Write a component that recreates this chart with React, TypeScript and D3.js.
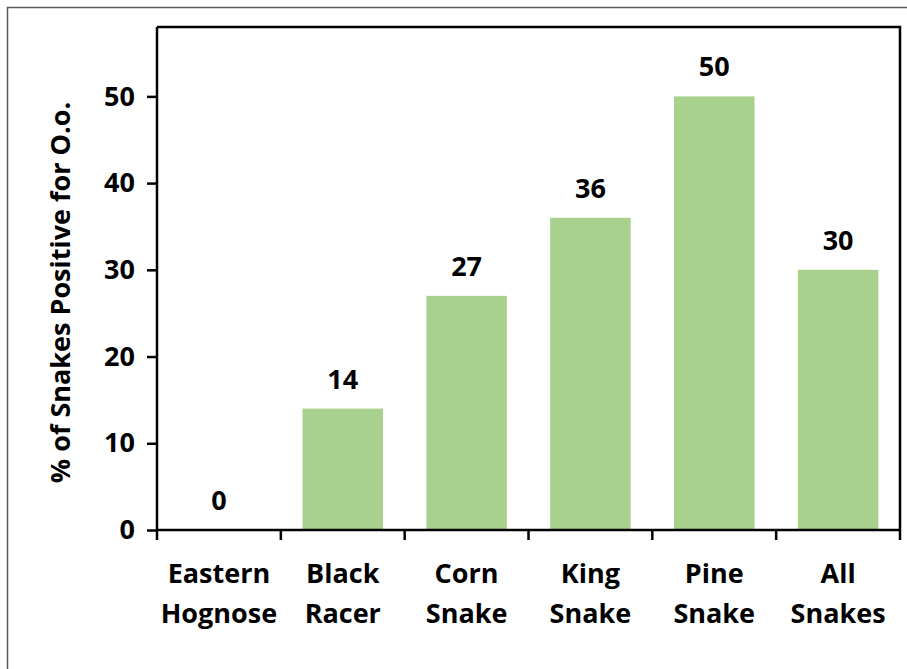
import React, { useRef, useEffect } from 'react';
import * as d3 from 'd3';

const categories = ['Eastern Hognose', 'Black Racer', 'Corn Snake', 'King Snake', 'Pine Snake', 'All Snakes'];
const percentPositive = [0, 14, 27, 36, 50, 30];
const yTicks = [0, 10, 20, 30, 40, 50];
const yTitle = '% of Snakes Positive for O.o.';

const App: React.FC = () => {
  const svgRef = useRef<SVGSVGElement>(null);

  useEffect(() => {
    if (!svgRef.current) return;
    document.body.style.margin = '0';

    const width = 907;
    const height = 669;
    const margins = { top: 27, right: 7, bottom: 139, left: 157 };
    const font = '"Open Sans", Lato, sans-serif';
    const fontSize = 27;

    const svg = d3.select(svgRef.current)
      .attr('width', width)
      .attr('height', height);
    svg.selectAll('*').remove();

    // outer frame
    svg.append('rect')
      .attr('x', 7.5).attr('y', 7.5)
      .attr('width', width + 20).attr('height', height + 20)
      .attr('fill', 'white')
      .attr('stroke', '#595959')
      .attr('stroke-width', 1.5);

    const x = d3.scaleBand<string>()
      .domain(categories)
      .range([margins.left, width - margins.right])
      .paddingInner(0.35)
      .paddingOuter(0.175);

    const y = d3.scaleLinear()
      .domain([0, 58])
      .range([height - margins.bottom, margins.top]);

    // bars
    svg.append('g')
      .selectAll('rect')
      .data(percentPositive)
      .join('rect')
      .attr('x', (_, i) => x(categories[i])!)
      .attr('width', x.bandwidth())
      .attr('y', d => y(d))
      .attr('height', d => y(0) - y(d))
      .attr('fill', '#a9d18e');

    // value labels
    svg.append('g')
      .selectAll('text')
      .data(percentPositive)
      .join('text')
      .attr('x', (_, i) => x(categories[i])! + x.bandwidth() / 2)
      .attr('y', d => y(d) - 20)
      .attr('text-anchor', 'middle')
      .attr('font-family', font)
      .attr('font-weight', 'bold')
      .attr('font-size', fontSize)
      .text(d => d);

    // top and right frame lines
    const frame = svg.append('g').attr('stroke', '#000').attr('stroke-width', 2.5).attr('fill', 'none');
    frame.append('path')
      .attr('d', `M${margins.left},${margins.top}H${width - margins.right}V${y(0)}`);

    // y axis
    const yAxis = svg.append('g')
      .attr('transform', `translate(${margins.left},0)`)
      .call(d3.axisLeft(y).tickValues(yTicks).tickSize(10).tickPadding(12).tickSizeOuter(0));
    yAxis.select('.domain').attr('stroke-width', 2.5).attr('d', `M0,${margins.top}V${y(0)}`);
    yAxis.selectAll('.tick line').attr('stroke-width', 2.5);
    yAxis.selectAll('.tick text')
      .attr('font-family', font)
      .attr('font-weight', 'bold')
      .attr('font-size', fontSize)
      .attr('fill', '#000');

    // x axis with ticks at category boundaries
    const xAxis = svg.append('g').attr('transform', `translate(0,${y(0)})`);
    xAxis.append('line')
      .attr('x1', margins.left).attr('x2', width - margins.right)
      .attr('stroke', '#000').attr('stroke-width', 2.5);
    const step = x.step();
    const edges = d3.range(categories.length + 1).map(i => margins.left + i * step);
    xAxis.selectAll('line.tick')
      .data(edges)
      .join('line')
      .attr('class', 'tick')
      .attr('x1', d => d).attr('x2', d => d)
      .attr('y1', 0).attr('y2', 10)
      .attr('stroke', '#000').attr('stroke-width', 2.5);

    const labels = xAxis.selectAll('text.cat')
      .data(categories)
      .join('text')
      .attr('class', 'cat')
      .attr('text-anchor', 'middle')
      .attr('font-family', font)
      .attr('font-weight', 'bold')
      .attr('font-size', fontSize)
      .attr('transform', d => `translate(${x(d)! + x.bandwidth() / 2},0)`);
    labels.each(function (d) {
      const words = d.split(' ');
      d3.select(this).selectAll('tspan')
        .data(words)
        .join('tspan')
        .attr('x', 0)
        .attr('y', (_, i) => 53 + i * 40)
        .text(w => w);
    });

    // y title
    svg.append('text')
      .attr('transform', `translate(70,${(margins.top + y(0)) / 2 + 14}) rotate(-90)`)
      .attr('text-anchor', 'middle')
      .attr('font-family', font)
      .attr('font-weight', 'bold')
      .attr('font-size', fontSize)
      .text(yTitle);
  }, []);

  return <svg ref={svgRef} style={{ display: 'block' }} />;
};

export default App;
